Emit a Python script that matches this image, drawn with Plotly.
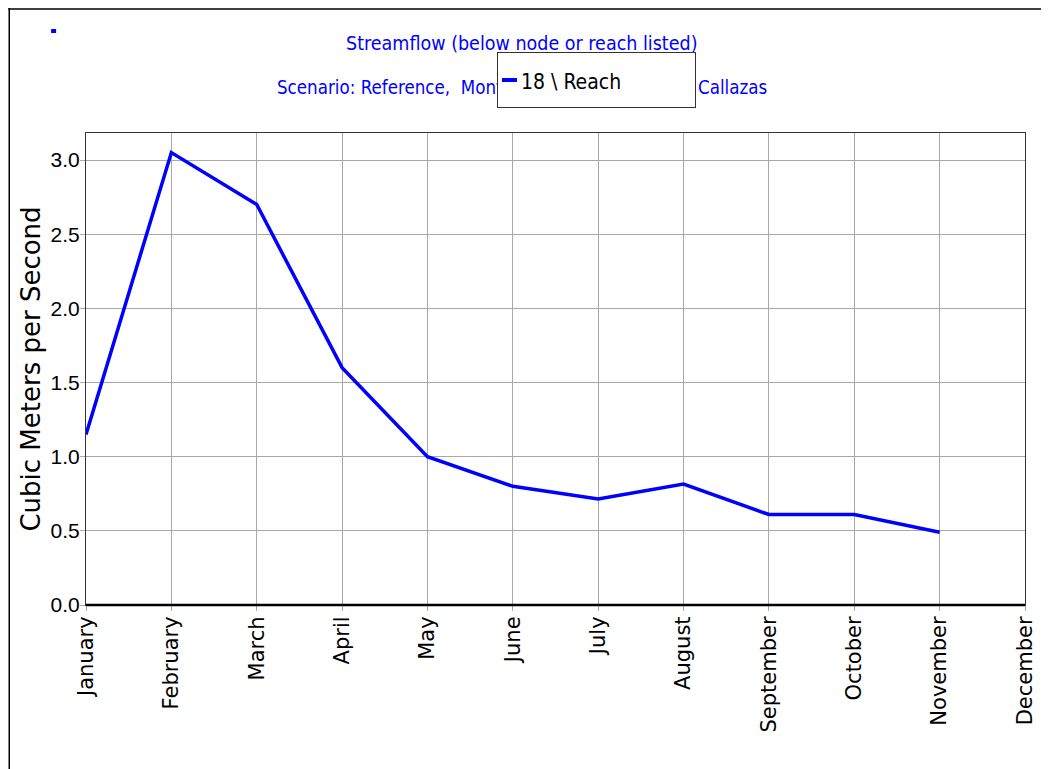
import plotly.graph_objects as go

months = ["January", "February", "March", "April", "May", "June", "July",
          "August", "September", "October", "November", "December"]
flow = [1.15, 3.05, 2.70, 1.60, 1.00, 0.80, 0.715, 0.815, 0.61, 0.61, 0.49, None]
series_name = "18 \\ Reach"
y_ticks = [0.0, 0.5, 1.0, 1.5, 2.0, 2.5, 3.0]
title_1 = "Streamflow (below node or reach listed)"
title_2 = "Scenario: Reference,  Monthly Average, River: Rio Callazas"
y_title = "Cubic Meters per Second"

OFF = 8  # page body margin
W, H = 1049 - OFF, 769 - OFF
L, R, T, B = 86 - OFF, 21, 133 - OFF, 164
pw, ph = W - L - R, H - T - B


def px(x):  # page pixel -> paper x
    return (x - OFF - L) / pw


def py(y):  # page pixel -> paper y
    return (H - B - (y - OFF)) / ph


narrow = "Liberation Sans, Arial, sans-serif"
cond = "DejaVu Sans Condensed, Liberation Sans, sans-serif"
wide = "DejaVu Sans, Verdana, sans-serif"
line_color = "#0000ff"

fig = go.Figure()
fig.add_trace(go.Scatter(
    x=list(range(len(months))), y=flow, mode="lines", name=series_name,
    line=dict(color=line_color, width=3.5), showlegend=False,
))

fig.update_layout(
    width=W, height=H,
    margin=dict(l=L, r=R, t=T, b=B, pad=0),
    paper_bgcolor="white", plot_bgcolor="white",
    xaxis=dict(
        range=[0, 11], tickmode="array", tickvals=list(range(12)), ticktext=months,
        tickangle=-90, tickfont=dict(family=wide, size=21, color="black"),
        showgrid=True, gridcolor="#a8a8a8", gridwidth=1,
        showline=True, linecolor="#333333", linewidth=1, mirror=True,
        ticks="outside", ticklen=5, tickcolor="#a8a8a8",
        ticklabelstandoff=-3,
        zeroline=False,
    ),
    yaxis=dict(
        range=[0, 3.0 * (605 - 133) / (605 - 160)],
        tickmode="array", tickvals=y_ticks, ticktext=[f"{v:.1f}" for v in y_ticks],
        tickfont=dict(family=narrow, size=21, color="black"),
        showgrid=True, gridcolor="#a8a8a8", gridwidth=1,
        showline=True, linecolor="#333333", linewidth=1, mirror=True,
        ticks="outside", ticklen=5, tickcolor="#a8a8a8",
        ticklabelstandoff=-4,
        zeroline=False,
        title=dict(text=y_title,
                   font=dict(family=wide, size=26, color="black"), standoff=2),
    ),
    annotations=[
        dict(text=title_1, xref="paper", yref="paper", x=px(523), y=py(43),
             xanchor="center", yanchor="middle", showarrow=False,
             borderwidth=0, bgcolor="rgba(0,0,0,0)", bordercolor="rgba(0,0,0,0)",
             font=dict(family=cond, size=19.5, color=line_color)),
        dict(text=title_2, xref="paper", yref="paper", x=px(523), y=py(87),
             xanchor="center", yanchor="middle", showarrow=False,
             borderwidth=0, bgcolor="rgba(0,0,0,0)", bordercolor="rgba(0,0,0,0)",
             font=dict(family=cond, size=18.6, color=line_color)),
        # legend box (drawn over the subtitle, as in the original)
        dict(text=" ", xref="paper", yref="paper", x=px(498), y=py(52),
             xanchor="left", yanchor="top", showarrow=False,
             width=197, height=54,
             bgcolor="white", bordercolor="#333333", borderwidth=1, borderpad=0,
             font=dict(family=narrow, size=4)),
        # legend line sample
        dict(text=" ", xref="paper", yref="paper", x=px(503), y=py(78),
             xanchor="left", yanchor="top", showarrow=False,
             width=15, height=4, bgcolor=line_color, borderpad=0, borderwidth=0,
             font=dict(size=1)),
        # legend label
        dict(text=series_name, xref="paper", yref="paper", x=px(521), y=py(82),
             xanchor="left", yanchor="middle", showarrow=False, borderwidth=0,
             font=dict(family=cond, size=21, color="black")),
    ],
    shapes=[
        # thick bottom axis line
        dict(type="line", xref="paper", yref="paper", x0=0, x1=1, y0=0, y1=0,
             line=dict(color="black", width=2.5)),
        # page frame (top and left)
        dict(type="line", xref="paper", yref="paper", x0=px(OFF), x1=px(1049), y0=py(OFF + 1), y1=py(OFF + 1),
             line=dict(color="black", width=1.5)),
        dict(type="line", xref="paper", yref="paper", x0=px(OFF + 1), x1=px(OFF + 1), y0=py(OFF), y1=py(769),
             line=dict(color="black", width=1.5)),
        # small blue mark at top-left
        dict(type="rect", xref="paper", yref="paper", x0=px(51), x1=px(56), y0=py(29), y1=py(33),
             fillcolor=line_color, line=dict(width=0)),
    ],
)

fig.write_html("out.html")
